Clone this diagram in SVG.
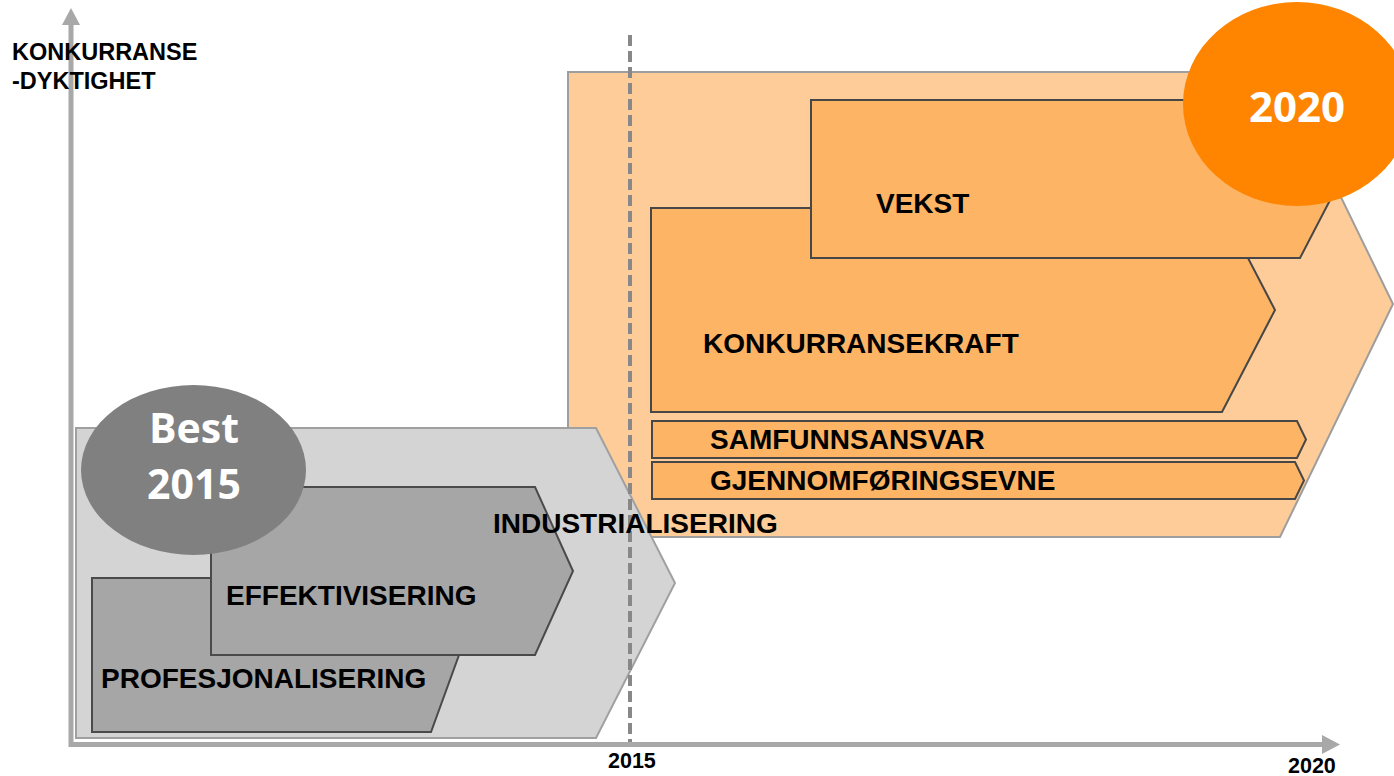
<svg xmlns="http://www.w3.org/2000/svg" width="1394" height="776" viewBox="0 0 1394 776">
  <style>
    .lbl { font-family: "Liberation Sans", Arial, sans-serif; font-weight: bold; fill: #000; }
    .big { font-size: 28px; }
    .axis-lbl { font-size: 23.5px; }
    .year { font-size: 21.5px; }
    .badge { font-family: "Open Sans", "Noto Sans", sans-serif; font-weight: bold; fill: #fff; text-anchor: middle; }
    .outer-orange { fill: #FDCC98; stroke: #9E9E9E; stroke-width: 2; }
    .inner-orange { fill: #FDB465; stroke: #474747; stroke-width: 2; }
    .outer-gray { fill: #D4D4D4; stroke: #A0A0A0; stroke-width: 2; }
    .inner-gray { fill: #A6A6A6; stroke: #4A4A4A; stroke-width: 2; }
    .axis { stroke: #A8A8A8; stroke-width: 5; fill: none; }
  </style>

  <rect width="1394" height="776" fill="#fff"/>

  <!-- 2020 horizon -->
  <g id="node-2020-frame">
    <polygon class="outer-orange" points="568,72 1280,72 1393,304 1280,537 568,537"/>
  </g>
  <g id="node-konkurransekraft">
    <polygon class="inner-orange" points="651,208 1222,208 1275,310 1222,412 651,412"/>
    <text class="lbl big" x="703" y="353">KONKURRANSEKRAFT</text>
  </g>
  <g id="node-vekst">
    <polygon class="inner-orange" points="811,100 1300,100 1341,179 1300,258 811,258"/>
    <text class="lbl big" x="876" y="213">VEKST</text>
  </g>
  <g id="node-samfunnsansvar">
    <polygon class="inner-orange" points="652,421 1297,421 1306,439.5 1297,458 652,458"/>
    <text class="lbl big" x="710" y="449">SAMFUNNSANSVAR</text>
  </g>
  <g id="node-gjennomforingsevne">
    <polygon class="inner-orange" points="652,462 1295,462 1304,480.5 1295,499 652,499"/>
    <text class="lbl big" x="710" y="490">GJENNOMFØRINGSEVNE</text>
  </g>
  <g id="node-badge-2020">
    <ellipse cx="1297" cy="104" rx="114" ry="102" fill="#FF8400"/>
    <text class="badge" x="1297" y="122" font-size="42">2020</text>
  </g>

  <!-- 2015 foundation -->
  <g id="node-industrialisering-frame">
    <polygon class="outer-gray" points="76,428 596,428 675,583 596,738 76,738"/>
  </g>
  <g id="node-profesjonalisering">
    <polygon class="inner-gray" points="92,578 433,578 459,655 431,732 92,732"/>
    <text class="lbl big" x="101" y="688">PROFESJONALISERING</text>
  </g>
  <g id="node-effektivisering">
    <polygon class="inner-gray" points="211,487 535,487 573,571 535,655 211,655"/>
    <text class="lbl big" x="226" y="605">EFFEKTIVISERING</text>
  </g>
  <g id="node-badge-2015">
    <ellipse cx="193.5" cy="470" rx="112.5" ry="85" fill="#808080"/>
    <text class="badge" x="194" y="443" font-size="41">Best</text>
    <text class="badge" x="194" y="499" font-size="41">2015</text>
  </g>

  <!-- axes and 2015 marker line -->
  <g id="connectors">
    <line x1="630" y1="35" x2="630" y2="743" stroke="#888" stroke-width="4" stroke-dasharray="11 5"/>
    <polyline class="axis" points="71,25 71,744.5 1322,744.5"/>
    <polygon points="62,25 71,8 80,25" fill="#A8A8A8"/>
    <polygon points="1322,735 1340,744.5 1322,754" fill="#A8A8A8"/>
  </g>

  <g id="node-industrialisering-label">
    <text class="lbl big" x="493" y="533">INDUSTRIALISERING</text>
  </g>

  <g id="axis-labels">
    <text class="lbl axis-lbl" x="12" y="60">KONKURRANSE</text>
    <text class="lbl axis-lbl" x="12" y="89">-DYKTIGHET</text>
    <text class="lbl year" x="608" y="768">2015</text>
    <text class="lbl year" x="1288" y="773">2020</text>
  </g>
</svg>
